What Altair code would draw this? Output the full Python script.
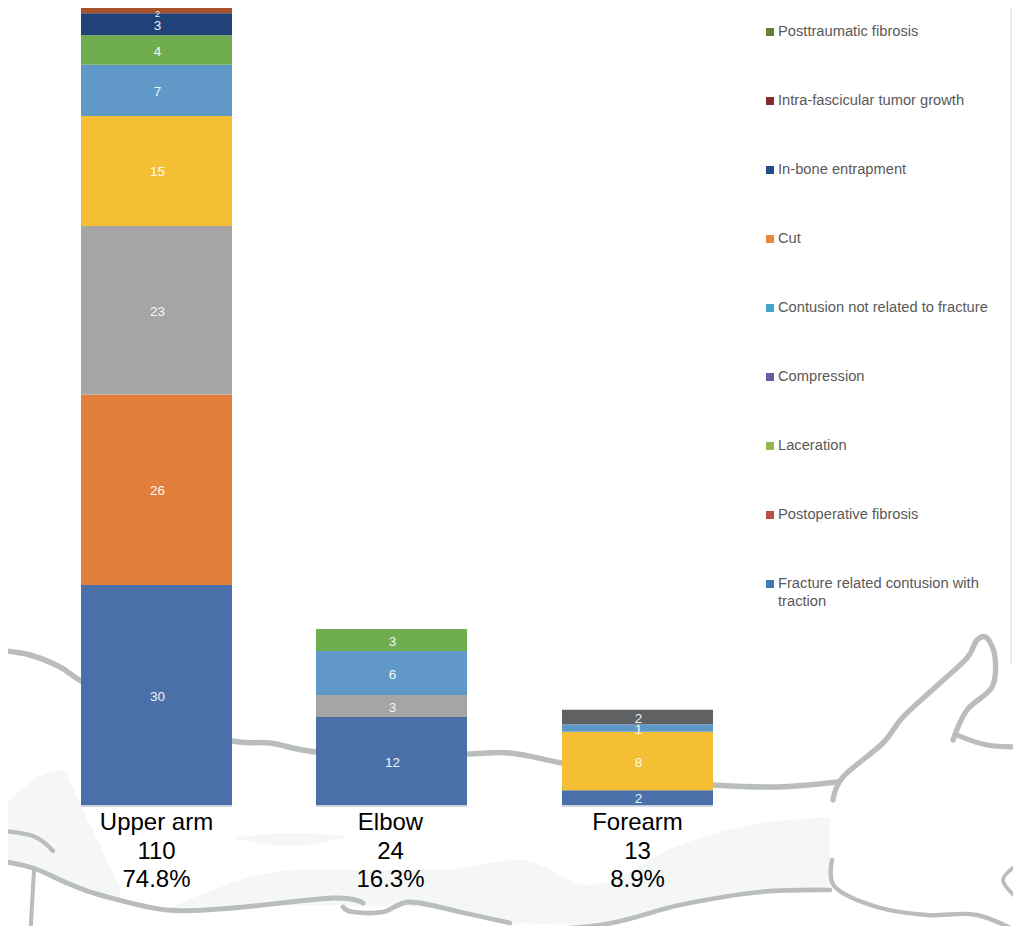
import altair as alt
import pandas as pd

# ---- chart values -------------------------------------------------------
regions = ["Upper arm", "Elbow", "Forearm"]
totals = ["110", "24", "13"]
shares = ["74.8%", "16.3%", "8.9%"]

upper_series = ["a", "b", "c", "d", "e", "f", "g", "h"]
upper_values = [30, 26, 23, 15, 7, 4, 3, 2]
elbow_series = ["a", "c", "e", "f"]
elbow_values = [12, 3, 6, 3]
forearm_series = ["a", "d", "e", "i"]
forearm_values = [2, 8, 1, 2]

series_keys = ["a", "b", "c", "d", "e", "f", "g", "h", "i"]
series_colors = ["#4a6fa9", "#e37f3c", "#a5a5a5", "#f4bf35", "#6098c8",
                 "#70ad4e", "#1f4379", "#a5522a", "#5f6163"]

causes = ["Posttraumatic fibrosis", "Intra-fascicular tumor growth",
          "In-bone entrapment", "Cut", "Contusion not related to fracture",
          "Compression", "Laceration", "Postoperative fibrosis",
          "Fracture related contusion with|traction"]
cause_colors = ["#63803a", "#7f2b30", "#1f4d86", "#e8883c", "#45a5c8",
                "#6c5a9e", "#8fb550", "#c04f4b", "#4378b5"]

# background arm sketch, traced in picture units
arm_strokes = {
    "upper": [(-5, 650), (30, 655), (60, 667), (81, 681), (150, 720), (232, 741),
              (270, 743), (316, 752), (400, 756), (467, 754), (510, 753),
              (562, 763), (650, 780), (713, 785), (777, 787), (838, 782)],
    "thumb": [(833, 800), (843, 777), (883, 743), (903, 717), (940, 683), (967, 658),
              (977, 640), (987, 638), (995, 657), (992, 687), (967, 710), (953, 740)],
    "palm": [(957, 735), (987, 745), (1025, 747)],
    "lower": [(-5, 860), (33, 868), (67, 883), (100, 895), (167, 910), (233, 908),
              (333, 898), (363, 903)],
    "notch": [(343, 907), (353, 912), (383, 912), (410, 902), (460, 912), (510, 923)],
    "under": [(490, 932), (600, 925), (680, 905), (760, 892), (830, 890)],
    "wrist": [(832, 860), (835, 887), (877, 907), (927, 915), (977, 915), (1025, 935)],
    "fold": [(-5, 830), (33, 836), (53, 851)],
    "leg": [(34, 870), (30, 940)],
    "finger": [(1025, 860), (1003, 880), (1025, 905)],
    "finger2": [(1025, 790), (1018, 790)],
    "finger3": [(1025, 835), (1018, 838)],
}
stroke_names = list(arm_strokes)
stroke_widths = [5.5, 3.5, 3, 5, 4, 5.5, 4, 5, 11, 4, 4, 4]

arm_bands = {
    "shoulder": ([0, 60, 85, 120], [810, 770, 815, 888], [860, 880, 892, 898]),
    "sliver": ([233, 290, 350], [838, 833, 836], [838, 846, 836]),
    "forearm": ([170, 300, 440, 520, 590, 680, 727, 830],
                [908, 870, 870, 860, 885, 845, 830, 817],
                [908, 905, 908, 923, 925, 905, 897, 888]),
}

# ---- tables -------------------------------------------------------------
rows = []
for region, keys, vals in zip(regions,
                              [upper_series, elbow_series, forearm_series],
                              [upper_values, elbow_values, forearm_values]):
    base = 0
    for k, v in zip(keys, vals):
        rows.append({"region": region, "series": k, "value": v, "y0": base,
                     "y1": base + v, "mid": min(base + v / 2, 108.15)})
        base += v
bars = pd.DataFrame(rows)
bottoms = pd.DataFrame({"region": regions, "y0": [-0.25] * 3, "y1": [0] * 3})
captions = pd.DataFrame({"region": regions,
                         "text": [f"{r}|{t}|{s}" for r, t, s in zip(regions, totals, shares)]})
legend_df = pd.DataFrame({"cause": causes})
strokes = pd.DataFrame([{"stroke": name, "i": i, "x": p[0], "y": p[1]}
                        for name, pts in arm_strokes.items() for i, p in enumerate(pts)])
band = pd.DataFrame([{"band": name, "x": x, "y": t, "y2": b}
                     for name, (xs, ts, bs) in arm_bands.items()
                     for x, t, b in zip(xs, ts, bs)])

# ---- scales -------------------------------------------------------------
W, H = 1005, 918
Y_VAL = alt.Scale(domain=[-16.507, 108.73], nice=False, zero=False)
X_CAT = alt.Scale(domain=regions, range=[28.25, 749.75], paddingInner=0, paddingOuter=0)
X_PIC = alt.Scale(domain=[8, 8 + W], nice=False, zero=False)
Y_PIC = alt.Scale(domain=[8 + H, 8], nice=False, zero=False)
Y_LEG = alt.Scale(domain=causes, range=[24, 576], padding=0)
NUDGE = alt.expr("datum.region === 'Elbow' ? -5.5 : 0")
FONT = "Liberation Sans"

x_cat = alt.X("region:N", scale=X_CAT, axis=None, sort=regions)

arm_fill = alt.Chart(band).mark_area(color="#f5f6f6", interpolate="monotone", clip=True).encode(
    x=alt.X("x:Q", scale=X_PIC, axis=None),
    y=alt.Y("y:Q", scale=Y_PIC, axis=None),
    y2="y2:Q",
    detail="band:N",
)
arm_lines = alt.Chart(strokes).mark_line(
    color="#babdbd", interpolate="cardinal", clip=True,
    strokeCap="round", strokeJoin="round",
).encode(
    x=alt.X("x:Q", scale=X_PIC, axis=None),
    y=alt.Y("y:Q", scale=Y_PIC, axis=None),
    strokeWidth=alt.StrokeWidth("stroke:N", legend=None,
                                scale=alt.Scale(domain=stroke_names, range=stroke_widths)),
    detail="stroke:N",
    order="i:Q",
)
edge = alt.Chart(pd.DataFrame({"a": [0]})).mark_rule(color="#e6e6e6", strokeWidth=1.5).encode(
    x=alt.value(1003), y=alt.value(0), y2=alt.value(657)
)
base_rule = alt.Chart(bottoms).mark_bar(size=151, color="#c6ced9", xOffset=NUDGE).encode(
    x=x_cat,
    y=alt.Y("y0:Q", scale=Y_VAL, axis=None),
    y2="y1:Q",
)
bar = alt.Chart(bars).mark_bar(size=151, clip=True, xOffset=NUDGE).encode(
    x=x_cat,
    y=alt.Y("y0:Q", scale=Y_VAL, axis=None),
    y2="y1:Q",
    color=alt.Color("series:N", legend=None,
                    scale=alt.Scale(domain=series_keys, range=series_colors)),
)
bar_text = alt.Chart(bars).mark_text(
    font=FONT, color="#ffffff", opacity=0.92, baseline="middle", dx=1, dy=1.5,
    fontSize=alt.expr("datum.mid >= 108 ? 9 : 13.5"),
    xOffset=NUDGE,
).encode(
    x=x_cat,
    y=alt.Y("mid:Q", scale=Y_VAL, axis=None),
    text="value:Q",
)
caption = alt.Chart(captions).mark_text(
    font=FONT, fontSize=24, color="#000000", baseline="top", lineBreak="|",
    lineHeight=28.5, xOffset=alt.expr("datum.region === 'Elbow' ? -6.5 : 0"),
).encode(
    x=x_cat,
    y=alt.value(803),
    text="text:N",
)
leg_sym = alt.Chart(legend_df).mark_square(size=64, opacity=1).encode(
    x=alt.value(762),
    y=alt.Y("cause:N", scale=Y_LEG, axis=None, sort=causes),
    color=alt.Color("cause:N", legend=None,
                    scale=alt.Scale(domain=causes, range=cause_colors)),
)
leg_txt = alt.Chart(legend_df).mark_text(
    font=FONT, fontSize=14.7, color="#595959", align="left", baseline="top",
    lineBreak="|", lineHeight=18, dy=-8,
).encode(
    x=alt.value(770),
    y=alt.Y("cause:N", scale=Y_LEG, axis=None, sort=causes),
    text="cause:N",
)

chart = alt.layer(
    arm_fill, arm_lines, edge, base_rule, bar, bar_text, caption, leg_sym, leg_txt
).resolve_scale(
    x="independent", y="independent", color="independent", strokeWidth="independent"
).properties(
    width=W, height=H, padding=0, autosize=alt.AutoSizeParams(type="none"),
    background="#ffffff",
).configure_view(stroke=None)

chart.save("out.html", embed_options={"renderer": "svg", "actions": False})
